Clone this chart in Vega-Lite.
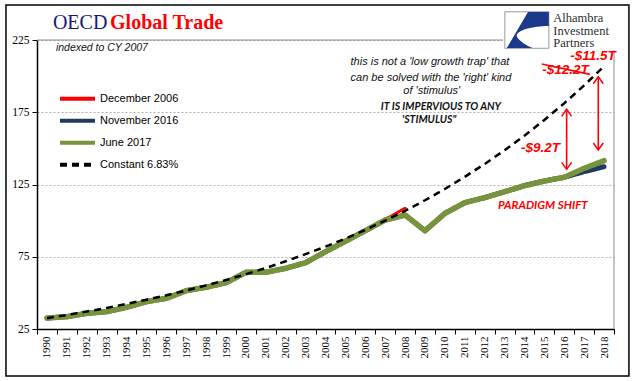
{
  "$schema": "https://vega.github.io/schema/vega-lite/v6.json",
  "width": 577,
  "height": 289,
  "autosize": {"type": "none"},
  "padding": {"left": 37, "top": 40, "right": 27, "bottom": 52},
  "background": "white",
  "config": {"view": {"stroke": null}},
  "datasets": {
    "lines": [
      {"yr": 2006, "series": "December 2006", "v": 93.0},
      {"yr": 2007, "series": "December 2006", "v": 100.8},
      {"yr": 2008, "series": "December 2006", "v": 108.6},
      {"yr": 1990, "series": "November 2016", "v": 32.6},
      {"yr": 1991, "series": "November 2016", "v": 33.5},
      {"yr": 1992, "series": "November 2016", "v": 35.8},
      {"yr": 1993, "series": "November 2016", "v": 37.0},
      {"yr": 1994, "series": "November 2016", "v": 40.0},
      {"yr": 1995, "series": "November 2016", "v": 43.9},
      {"yr": 1996, "series": "November 2016", "v": 46.2},
      {"yr": 1997, "series": "November 2016", "v": 51.5},
      {"yr": 1998, "series": "November 2016", "v": 53.9},
      {"yr": 1999, "series": "November 2016", "v": 57.0},
      {"yr": 2000, "series": "November 2016", "v": 64.2},
      {"yr": 2001, "series": "November 2016", "v": 64.2},
      {"yr": 2002, "series": "November 2016", "v": 67.0},
      {"yr": 2003, "series": "November 2016", "v": 70.9},
      {"yr": 2004, "series": "November 2016", "v": 78.5},
      {"yr": 2005, "series": "November 2016", "v": 85.7},
      {"yr": 2006, "series": "November 2016", "v": 93.0},
      {"yr": 2007, "series": "November 2016", "v": 100.4},
      {"yr": 2008, "series": "November 2016", "v": 103.9},
      {"yr": 2009, "series": "November 2016", "v": 93.0},
      {"yr": 2010, "series": "November 2016", "v": 105.0},
      {"yr": 2011, "series": "November 2016", "v": 112.4},
      {"yr": 2012, "series": "November 2016", "v": 115.9},
      {"yr": 2013, "series": "November 2016", "v": 120.0},
      {"yr": 2014, "series": "November 2016", "v": 124.2},
      {"yr": 2015, "series": "November 2016", "v": 127.4},
      {"yr": 2016, "series": "November 2016", "v": 130.0},
      {"yr": 2017, "series": "November 2016", "v": 133.9},
      {"yr": 2018, "series": "November 2016", "v": 137.3},
      {"yr": 1990, "series": "June 2017", "v": 32.6},
      {"yr": 1991, "series": "June 2017", "v": 33.5},
      {"yr": 1992, "series": "June 2017", "v": 35.8},
      {"yr": 1993, "series": "June 2017", "v": 37.0},
      {"yr": 1994, "series": "June 2017", "v": 40.0},
      {"yr": 1995, "series": "June 2017", "v": 43.9},
      {"yr": 1996, "series": "June 2017", "v": 46.2},
      {"yr": 1997, "series": "June 2017", "v": 51.5},
      {"yr": 1998, "series": "June 2017", "v": 53.9},
      {"yr": 1999, "series": "June 2017", "v": 57.0},
      {"yr": 2000, "series": "June 2017", "v": 64.2},
      {"yr": 2001, "series": "June 2017", "v": 64.2},
      {"yr": 2002, "series": "June 2017", "v": 67.0},
      {"yr": 2003, "series": "June 2017", "v": 70.9},
      {"yr": 2004, "series": "June 2017", "v": 78.5},
      {"yr": 2005, "series": "June 2017", "v": 85.7},
      {"yr": 2006, "series": "June 2017", "v": 93.0},
      {"yr": 2007, "series": "June 2017", "v": 100.4},
      {"yr": 2008, "series": "June 2017", "v": 103.9},
      {"yr": 2009, "series": "June 2017", "v": 93.0},
      {"yr": 2010, "series": "June 2017", "v": 105.0},
      {"yr": 2011, "series": "June 2017", "v": 112.4},
      {"yr": 2012, "series": "June 2017", "v": 115.9},
      {"yr": 2013, "series": "June 2017", "v": 120.0},
      {"yr": 2014, "series": "June 2017", "v": 124.2},
      {"yr": 2015, "series": "June 2017", "v": 127.4},
      {"yr": 2016, "series": "June 2017", "v": 130.0},
      {"yr": 2017, "series": "June 2017", "v": 136.2},
      {"yr": 2018, "series": "June 2017", "v": 141.5},
      {"yr": 1990, "series": "Constant 6.83%", "v": 32.5},
      {"yr": 1991, "series": "Constant 6.83%", "v": 34.7},
      {"yr": 1992, "series": "Constant 6.83%", "v": 37.1},
      {"yr": 1993, "series": "Constant 6.83%", "v": 39.6},
      {"yr": 1994, "series": "Constant 6.83%", "v": 42.4},
      {"yr": 1995, "series": "Constant 6.83%", "v": 45.3},
      {"yr": 1996, "series": "Constant 6.83%", "v": 48.3},
      {"yr": 1997, "series": "Constant 6.83%", "v": 51.6},
      {"yr": 1998, "series": "Constant 6.83%", "v": 55.2},
      {"yr": 1999, "series": "Constant 6.83%", "v": 58.9},
      {"yr": 2000, "series": "Constant 6.83%", "v": 62.9},
      {"yr": 2001, "series": "Constant 6.83%", "v": 67.2},
      {"yr": 2002, "series": "Constant 6.83%", "v": 71.9},
      {"yr": 2003, "series": "Constant 6.83%", "v": 76.8},
      {"yr": 2004, "series": "Constant 6.83%", "v": 82.0},
      {"yr": 2005, "series": "Constant 6.83%", "v": 87.6},
      {"yr": 2006, "series": "Constant 6.83%", "v": 93.6},
      {"yr": 2007, "series": "Constant 6.83%", "v": 100.0},
      {"yr": 2008, "series": "Constant 6.83%", "v": 106.8},
      {"yr": 2009, "series": "Constant 6.83%", "v": 114.1},
      {"yr": 2010, "series": "Constant 6.83%", "v": 121.9},
      {"yr": 2011, "series": "Constant 6.83%", "v": 130.3},
      {"yr": 2012, "series": "Constant 6.83%", "v": 139.2},
      {"yr": 2013, "series": "Constant 6.83%", "v": 148.7},
      {"yr": 2014, "series": "Constant 6.83%", "v": 158.8},
      {"yr": 2015, "series": "Constant 6.83%", "v": 169.7},
      {"yr": 2016, "series": "Constant 6.83%", "v": 181.2},
      {"yr": 2017, "series": "Constant 6.83%", "v": 193.6},
      {"yr": 2018, "series": "Constant 6.83%", "v": 206.8}
    ],
    "boxes": [
      {"k": "cover", "yr": 2012.92, "yr2": 2019.1, "v": 218.1, "v2": 247.1},
      {"k": "frame", "yr": 1987.94, "yr2": 2019.25, "v": 249.2, "v2": -7.5}
    ],
    "rules": [
      {"k": "gray", "yr": 1989.5, "yr2": 2012.92, "v": 225, "v2": 225},
      {"k": "gray", "yr": 2018.5, "yr2": 2018.5, "v": 25, "v2": 218.1},
      {"k": "red", "yr": 2014.87, "yr2": 2017.29, "v": 208.4, "v2": 201.2},
      {"k": "red", "yr": 2016.12, "yr2": 2016.12, "v": 177.0, "v2": 135.5},
      {"k": "red", "yr": 2017.71, "yr2": 2017.71, "v": 199.6, "v2": 148.9}
    ],
    "heads": [
      {"k": "up", "yr": 2016.12, "v": 177.0},
      {"k": "up", "yr": 2017.71, "v": 199.6},
      {"k": "dn", "yr": 2016.12, "v": 135.5},
      {"k": "dn", "yr": 2017.71, "v": 148.9},
      {"k": "logo", "yr": 2014.12, "v": 231.9}
    ],
    "ann": [
      {"k": "t1", "yr": 1990.30, "v": 232.3, "label": "OECD"},
      {"k": "t2", "yr": 1993.17, "v": 232.3, "label": "Global Trade"},
      {"k": "sub", "yr": 1990.45, "v": 219.7, "label": "indexed to CY 2007"},
      {"k": "p", "yr": 2009.25, "v": 210.0, "label": "this is not a 'low growth trap' that"},
      {"k": "p", "yr": 2009.30, "v": 198.9, "label": "can be solved with the 'right' kind"},
      {"k": "p", "yr": 2009.34, "v": 189.7, "label": "of 'stimulus'"},
      {"k": "b", "yr": 2009.80, "v": 178.8, "label": "IT IS IMPERVIOUS TO ANY"},
      {"k": "b", "yr": 2009.21, "v": 169.6, "label": "'STIMULUS\""},
      {"k": "r", "yr": 2014.81, "v": 150.5, "label": "-$9.2T"},
      {"k": "r", "yr": 2016.06, "v": 204.2, "label": "-$12.2T"},
      {"k": "r2", "yr": 2017.44, "v": 213.6, "label": "-$11.5T"},
      {"k": "ps", "yr": 2014.92, "v": 110.1, "label": "PARADIGM SHIFT"},
      {"k": "logo", "yr": 2015.45, "v": 237.5, "label": "Alhambra"},
      {"k": "logo", "yr": 2015.45, "v": 228.7, "label": "Investment"},
      {"k": "logo", "yr": 2015.45, "v": 219.9, "label": "Partners"}
    ]
  },
  "encoding": {
    "x": {"field": "yr", "type": "quantitative",
      "scale": {"domain": [1989.5, 2018.5], "nice": false, "zero": false},
      "axis": {"title": null,
        "values": [1989.5,1990.5,1991.5,1992.5,1993.5,1994.5,1995.5,1996.5,1997.5,1998.5,1999.5,2000.5,2001.5,2002.5,2003.5,2004.5,2005.5,2006.5,2007.5,2008.5,2009.5,2010.5,2011.5,2012.5,2013.5,2014.5,2015.5,2016.5,2017.5,2018.5],
        "labelExpr": "datum.value > 2018 ? '' : format(datum.value + 0.5, 'd')",
        "labelOffset": 9.95, "labelAngle": 270, "labelOverlap": false, "labelFlush": false, "labelBound": false,
        "tickSize": 5, "labelPadding": 2, "labelFont": "Liberation Serif", "labelFontSize": 11, "labelColor": "#000",
        "domainColor": "#000", "domainWidth": 1.5, "tickColor": "#000", "grid": false}},
    "y": {"field": "v", "type": "quantitative",
      "scale": {"domain": [25, 225], "nice": false, "zero": false},
      "axis": {"title": null, "values": [25, 75, 125, 175, 225], "tickSize": 5, "labelPadding": 3,
        "labelFont": "Liberation Serif", "labelFontSize": 11.5, "labelColor": "#000",
        "domainColor": "#000", "domainWidth": 1.5, "tickColor": "#000",
        "grid": true, "gridDash": [2, 2], "gridColor": "#9a9a9a", "gridWidth": 0.8}}
  },
  "layer": [
    {
      "data": {"name": "lines"},
      "transform": [{"filter": "datum.series === 'December 2006'"}],
      "mark": {"type": "line", "strokeCap": "round", "strokeJoin": "round", "strokeWidth": 3},
      "encoding": {
        "color": {"field": "series", "type": "nominal",
          "scale": {"domain": ["December 2006", "November 2016", "June 2017", "Constant 6.83%"], "range": ["#FF0000", "#1F3A60", "#77933C", "#000000"]},
          "legend": {"title": null, "orient": "none", "legendX": 21, "legendY": 48, "symbolType": "stroke", "symbolSize": 1225, "symbolStrokeWidth": 4, "clipHeight": 21.7, "rowPadding": 0, "padding": 0, "labelFont": "Liberation Sans", "labelFontSize": 11, "labelColor": "#000", "labelOffset": 3}},
        "strokeDash": {"field": "series", "type": "nominal",
          "scale": {"domain": ["December 2006", "November 2016", "June 2017", "Constant 6.83%"], "range": [[1, 0], [1, 0], [1, 0], [7, 5]]}}
      }
    },
    {
      "data": {"name": "lines"},
      "transform": [{"filter": "datum.series === 'November 2016'"}],
      "mark": {"type": "line", "strokeCap": "round", "strokeJoin": "round", "strokeWidth": 5},
      "encoding": {
        "color": {"field": "series", "type": "nominal"},
        "strokeDash": {"field": "series", "type": "nominal"}
      }
    },
    {
      "data": {"name": "lines"},
      "transform": [{"filter": "datum.series === 'June 2017'"}],
      "mark": {"type": "line", "strokeCap": "round", "strokeJoin": "round", "strokeWidth": 5.5},
      "encoding": {
        "color": {"field": "series", "type": "nominal"},
        "strokeDash": {"field": "series", "type": "nominal"}
      }
    },
    {
      "data": {"name": "lines"},
      "transform": [{"filter": "datum.series === 'Constant 6.83%'"}],
      "mark": {"type": "line", "strokeWidth": 2.5},
      "encoding": {
        "color": {"field": "series", "type": "nominal"},
        "strokeDash": {"field": "series", "type": "nominal"}
      }
    },
    {
      "data": {"name": "boxes"},
      "transform": [{"filter": "datum.k === 'cover'"}],
      "mark": {"type": "rect", "fill": "white", "strokeWidth": 0},
      "encoding": {"x2": {"field": "yr2"}, "y2": {"field": "v2"}}
    },
    {
      "data": {"name": "boxes"},
      "transform": [{"filter": "datum.k === 'frame'"}],
      "mark": {"type": "rect", "fill": "transparent", "stroke": "#000000", "strokeWidth": 1.5},
      "encoding": {"x2": {"field": "yr2"}, "y2": {"field": "v2"}}
    },
    {
      "data": {"name": "rules"},
      "transform": [{"filter": "datum.k === 'gray'"}],
      "mark": {"type": "rule", "color": "#8c8c8c", "strokeWidth": 1},
      "encoding": {"x2": {"field": "yr2"}, "y2": {"field": "v2"}}
    },
    {
      "data": {"name": "rules"},
      "transform": [{"filter": "datum.k === 'red'"}],
      "mark": {"type": "rule", "color": "#FF0000", "strokeWidth": 1.6},
      "encoding": {"x2": {"field": "yr2"}, "y2": {"field": "v2"}}
    },
    {
      "data": {"name": "heads"},
      "transform": [{"filter": "datum.k === 'up'"}],
      "mark": {"type": "point", "shape": "M -1 1.4 L 0 0 L 1 1.4", "size": 100, "filled": false, "stroke": "#FF0000", "strokeWidth": 1.5, "opacity": 1}
    },
    {
      "data": {"name": "heads"},
      "transform": [{"filter": "datum.k === 'dn'"}],
      "mark": {"type": "point", "shape": "M -1 -1.4 L 0 0 L 1 -1.4", "size": 100, "filled": false, "stroke": "#FF0000", "strokeWidth": 1.5, "opacity": 1}
    },
    {
      "data": {"name": "heads"},
      "transform": [{"filter": "datum.k === 'logo'"}],
      "mark": {"type": "point", "shape": "M -1 -0.83 L 1 -0.83 L 1 0.83 L -1 0.83 Z", "size": 1936, "filled": true, "fill": "#ffffff", "stroke": "#9a9a9a", "strokeWidth": 1, "opacity": 1}
    },
    {
      "data": {"name": "heads"},
      "transform": [{"filter": "datum.k === 'logo'"}],
      "mark": {"type": "point", "shape": "M 0.05 -0.82 L 1 -0.82 L 1 -0.18 C 0.2 -0.18 -0.55 0.05 -0.45 0.3 C -0.35 0.5 0 0.7 0.25 0.82 L -0.91 0.82 Z", "size": 1936, "filled": true, "fill": "#1C3A8C", "strokeWidth": 0, "opacity": 1}
    },
    {
      "data": {"name": "ann"},
      "transform": [{"filter": "datum.k === 't1'"}],
      "mark": {"type": "text", "align": "left", "baseline": "alphabetic", "font": "Liberation Serif", "fontSize": 20, "color": "#16167A"},
      "encoding": {"text": {"field": "label"}}
    },
    {
      "data": {"name": "ann"},
      "transform": [{"filter": "datum.k === 't2'"}],
      "mark": {"type": "text", "align": "left", "baseline": "alphabetic", "font": "Liberation Serif", "fontSize": 20, "fontWeight": "bold", "color": "#FF0000"},
      "encoding": {"text": {"field": "label"}}
    },
    {
      "data": {"name": "ann"},
      "transform": [{"filter": "datum.k === 'sub'"}],
      "mark": {"type": "text", "align": "left", "baseline": "middle", "font": "Liberation Sans", "fontSize": 10.5, "fontStyle": "italic", "color": "#111111"},
      "encoding": {"text": {"field": "label"}}
    },
    {
      "data": {"name": "ann"},
      "transform": [{"filter": "datum.k === 'p'"}],
      "mark": {"type": "text", "align": "center", "baseline": "middle", "font": "Liberation Sans", "fontSize": 11, "fontStyle": "italic", "color": "#111111"},
      "encoding": {"text": {"field": "label"}}
    },
    {
      "data": {"name": "ann"},
      "transform": [{"filter": "datum.k === 'b'"}],
      "mark": {"type": "text", "align": "center", "baseline": "middle", "font": "Lato", "fontSize": 10.5, "fontStyle": "italic", "fontWeight": "bold", "color": "#111111"},
      "encoding": {"text": {"field": "label"}}
    },
    {
      "data": {"name": "ann"},
      "transform": [{"filter": "datum.k === 'r'"}],
      "mark": {"type": "text", "align": "center", "baseline": "middle", "font": "Liberation Sans", "fontSize": 13.5, "fontStyle": "italic", "fontWeight": "bold", "color": "#FF0000"},
      "encoding": {"text": {"field": "label"}}
    },
    {
      "data": {"name": "ann"},
      "transform": [{"filter": "datum.k === 'r2'"}],
      "mark": {"type": "text", "align": "center", "baseline": "middle", "font": "Liberation Sans", "fontSize": 13.5, "fontStyle": "italic", "fontWeight": "bold", "color": "#FF0000"},
      "encoding": {"text": {"field": "label"}}
    },
    {
      "data": {"name": "ann"},
      "transform": [{"filter": "datum.k === 'ps'"}],
      "mark": {"type": "text", "align": "center", "baseline": "middle", "font": "Lato", "fontSize": 11.5, "fontStyle": "italic", "fontWeight": "bold", "color": "#FF0000"},
      "encoding": {"text": {"field": "label"}}
    },
    {
      "data": {"name": "ann"},
      "transform": [{"filter": "datum.k === 'logo'"}],
      "mark": {"type": "text", "align": "left", "baseline": "alphabetic", "font": "Liberation Serif", "fontSize": 12.5, "color": "#2e2e2e"},
      "encoding": {"text": {"field": "label"}}
    }
  ]
}
